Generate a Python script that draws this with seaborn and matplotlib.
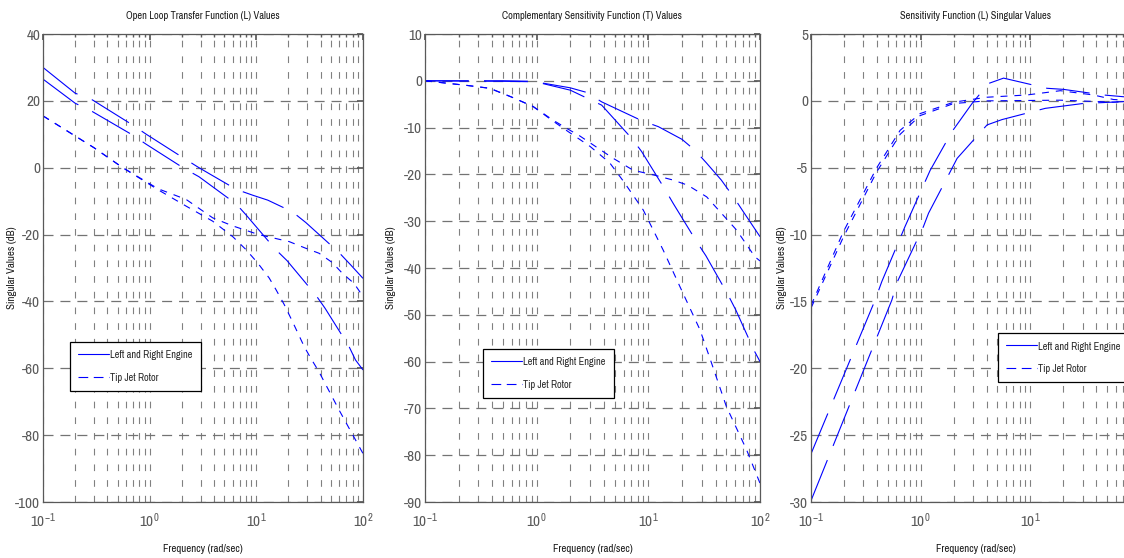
import pandas as pd
import seaborn as sns
import matplotlib.pyplot as plt
from matplotlib import font_manager
from matplotlib.lines import Line2D
from matplotlib.ticker import LogLocator, FixedLocator, NullFormatter, LogFormatterMathtext

# Panel 1: open loop transfer function (L), singular values in dB
L_ENG_HI_W = [0.1, 0.2, 0.29, 0.69, 0.93, 2.1, 2.9, 6.5, 9.2, 12.8, 21.8, 29.1, 59.7, 76.8, 100]
L_ENG_HI_DB = [30, 22.3, 20.3, 12.8, 10, 2.8, 0, -6.5, -8.2, -9.7, -13.2, -16.4, -25.4, -29.1, -33.1]
L_ENG_LO_W = [0.1, 0.2, 0.29, 0.69, 0.93, 2.1, 2.9, 6.5, 8.0, 15.1, 19.4, 36.1, 44.2, 74, 85, 100]
L_ENG_LO_DB = [26.5, 19.3, 16.8, 9.8, 7.0, -0.2, -2.7, -10.9, -14.1, -24.4, -27.8, -38.1, -42.1, -53.5, -57.5, -60.5]
L_ROT_HI_W = [0.1, 0.3, 0.56, 1.2, 2.2, 3.9, 6, 10.5, 20.3, 29.1, 38.8, 51.7, 64.1, 82.4, 100]
L_ROT_HI_DB = [15.5, 6, 0, -6.3, -9.5, -15, -17.4, -20, -22.1, -24.1, -25.6, -28.4, -31.6, -34.6, -38.5]
L_ROT_LO_W = [0.1, 0.3, 0.56, 1.2, 2.2, 3.9, 6, 8, 10.3, 13.2, 15.3, 18.3, 21.8, 28.1, 32.4, 38.6, 59.7, 100]
L_ROT_LO_DB = [15.5, 6, 0, -6.6, -11.5, -16, -20.6, -24.5, -28.5, -33, -36.5, -41, -46, -53.5, -57, -61, -72.5, -85.5]

# Panel 2: complementary sensitivity (T)
T_ENG_HI_W = [0.1, 0.5, 0.9, 1.14, 2.0, 2.82, 3.82, 8.7, 12.3, 20, 26, 33, 45, 59, 71, 100]
T_ENG_HI_DB = [0, 0, -0.1, -0.5, -1.5, -2.5, -4.5, -8.5, -9.8, -12.5, -14.8, -17.5, -21.2, -25.1, -28, -33.3]
T_ENG_LO_W = [0.1, 0.5, 0.9, 1.14, 2.0, 2.82, 3.82, 7.1, 8.7, 14.1, 16.7, 27.1, 32.8, 51.9, 60.8, 88, 100]
T_ENG_LO_DB = [0, -0.1, -0.2, -0.6, -2.0, -3.7, -5.2, -12.3, -15.1, -23.2, -26.2, -34.4, -37.4, -45.8, -49, -57.5, -60]
T_ROT_HI_W = [0.1, 0.24, 0.38, 0.6, 0.93, 1.4, 1.9, 2.44, 4.8, 7.3, 11.5, 16.6, 22.5, 33.3, 61.7, 90, 100]
T_ROT_HI_DB = [0, -1.0, -1.6, -3.5, -5.5, -8.4, -10.3, -11.8, -16.5, -19.1, -20.2, -21.2, -22.3, -24.8, -31.9, -37.6, -38.5]
T_ROT_LO_W = [0.1, 0.24, 0.38, 0.6, 0.93, 1.4, 1.9, 3.0, 4.5, 6, 9, 13.6, 19.2, 29, 35.6, 50, 76, 100]
T_ROT_LO_DB = [0, -1.0, -1.6, -3.5, -5.5, -8.6, -10.8, -14, -17.5, -21.5, -27.6, -36.2, -44, -53.2, -59.3, -69.6, -78.9, -86]

# Panel 3: sensitivity (S)
S_ENG_HI_W = [0.1, 0.384, 0.443, 0.72, 1.22, 1.93, 2.94, 4.16, 5.7, 14.2, 20, 46.4, 100]
S_ENG_HI_DB = [-26.4, -14.9, -13.5, -9.4, -5.2, -2.3, -0.2, 1.3, 1.7, 0.94, 0.86, 0.44, 0.2]
S_ENG_LO_W = [0.1, 0.546, 0.607, 1.06, 1.18, 1.86, 2.15, 4.03, 5.52, 13.7, 30, 100]
S_ENG_LO_DB = [-29.9, -14.9, -13.6, -9.4, -8.4, -5.3, -4.3, -1.8, -1.4, -0.56, -0.2, 0]
S_ROT_HI_W = [0.1, 0.197, 0.398, 0.65, 0.99, 2.0, 4.0, 9.3, 18.8, 37.6, 57.3, 100]
S_ROT_HI_DB = [-15.3, -9.8, -5.0, -2.2, -0.95, -0.1, 0.27, 0.44, 0.76, 0.44, 0.1, 0]
S_ROT_LO_W = [0.1, 0.197, 0.398, 0.65, 0.99, 2.0, 4.0, 18.8, 57.3, 100]
S_ROT_LO_DB = [-15.5, -10.2, -5.3, -2.5, -1.1, -0.2, 0, 0.05, -0.1, 0]

TITLES = ['Open Loop Transfer Function (L) Values',
          'Complementary Sensitivity Function (T) Values',
          'Sensitivity Function (L) Singular Values']
LABELS = ['Left and Right Engine', 'Tip Jet Rotor']
Y_LIMS = [(-100, 40), (-90, 10), (-30, 5)]
Y_STEPS = [20, 10, 5]

sns.set_theme(style='white')

# the reference text is very narrow: use a narrow face if one is installed
narrow = [f.name for f in font_manager.fontManager.ttflist if 'Narrow' in f.name or 'Condensed' in f.name]
if narrow:
    family = narrow[0]
else:
    family = 'DejaVu Sans'
    plt.rcParams['font.stretch'] = 'condensed'
plt.rcParams['font.family'] = [family, 'DejaVu Sans']
plt.rcParams['mathtext.fontset'] = 'custom'
plt.rcParams['mathtext.rm'] = family
plt.rcParams['mathtext.it'] = family
plt.rcParams['axes.unicode_minus'] = False
plt.rcParams['lines.scale_dashes'] = False

W, H = 1124, 558
fig = plt.figure(figsize=(W / 100, H / 100), dpi=100)

# axes boxes in pixels (left, right), top=34, bottom=502
boxes = [(43, 363), (425, 760), (811, 1140)]
axes = [fig.add_axes([x0 / W, (H - 502) / H, (x1 - x0) / W, 468 / H]) for x0, x1 in boxes]

panels = [
    [(L_ENG_HI_W, L_ENG_HI_DB), (L_ENG_LO_W, L_ENG_LO_DB), (L_ROT_HI_W, L_ROT_HI_DB), (L_ROT_LO_W, L_ROT_LO_DB)],
    [(T_ENG_HI_W, T_ENG_HI_DB), (T_ENG_LO_W, T_ENG_LO_DB), (T_ROT_HI_W, T_ROT_HI_DB), (T_ROT_LO_W, T_ROT_LO_DB)],
    [(S_ENG_HI_W, S_ENG_HI_DB), (S_ENG_LO_W, S_ENG_LO_DB), (S_ROT_HI_W, S_ROT_HI_DB), (S_ROT_LO_W, S_ROT_LO_DB)],
]
# the "solid" traces come out broken into long dashes in the reference
styles = [(0, (31.5, 11)), (0, (31.5, 11)), (0, (5, 5)), (0, (5, 5))]

legend_anchor = [(0.084, 0.237), (0.173, 0.222), (0.569, 0.256)]
ylabel_x = [-0.081, -0.087, -0.073]

for i, ax in enumerate(axes):
    for (w, db), ls in zip(panels[i], styles):
        df = pd.DataFrame({'w': w, 'db': db})
        sns.lineplot(data=df, x='w', y='db', ax=ax, color='#0000ff', lw=0.8,
                     linestyle=ls, sort=False, estimator=None)
    ax.set_xscale('log')
    ax.set_xlim(0.1, 100)
    ax.set_ylim(*Y_LIMS[i])
    lo, hi = Y_LIMS[i]
    ax.yaxis.set_major_locator(FixedLocator(list(range(lo, hi + 1, Y_STEPS[i]))))
    ax.xaxis.set_major_locator(LogLocator(base=10))
    ax.xaxis.set_minor_locator(LogLocator(base=10, subs=range(2, 10)))
    ax.xaxis.set_major_formatter(LogFormatterMathtext())
    ax.xaxis.set_minor_formatter(NullFormatter())

    ax.grid(True, which='both', axis='x', color='0.5', lw=0.8, linestyle=(0, (4.8, 6.5)))
    ax.grid(True, which='major', axis='y', color='0.45', lw=0.9, linestyle=(0, (7.2, 5)))
    ax.set_axisbelow(True)

    ax.tick_params(which='both', direction='in', top=True, right=True,
                   color='0.35', labelcolor='0.35', labelsize=11, pad=2)
    ax.tick_params(axis='x', which='major', pad=7)
    ax.tick_params(which='major', length=4)
    ax.tick_params(which='minor', length=2.5)
    for sp in ax.spines.values():
        sp.set_color('0.35')
        sp.set_linewidth(0.9)

    ax.set_title(TITLES[i], fontsize=7.5, color='0.1', pad=11)
    ax.set_xlabel('Frequency (rad/sec)', fontsize=7.8, color='0.1')
    ax.set_ylabel('Singular Values (dB)', fontsize=7.8, color='0.1')
    ax.xaxis.set_label_coords(0.5, -0.09)
    ax.yaxis.set_label_coords(ylabel_x[i], 0.5)

    handles = [Line2D([], [], color='#0000ff', lw=0.8, linestyle='-'),
               Line2D([], [], color='#0000ff', lw=0.8, linestyle=(0, (7, 4)))]
    leg = ax.legend(handles, LABELS, loc='lower left', bbox_to_anchor=legend_anchor[i],
                    fontsize=7.4, frameon=True, fancybox=False, edgecolor='black',
                    framealpha=1, handlelength=3.0, handletextpad=0.1, handleheight=1.0,
                    borderpad=0.8, labelspacing=1.2, borderaxespad=0)
    leg.get_frame().set_linewidth(0.9)

fig.savefig('out.png', dpi=100)
